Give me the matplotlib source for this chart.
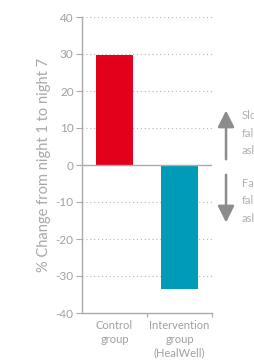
import matplotlib
matplotlib.use("Agg")
import matplotlib.pyplot as plt

categories = ["Control\ngroup", "Intervention\ngroup\n(HealWell)"]
values = [29.6, -33.6]
colors = ["#e2001a", "#009bb7"]
yticks = [-40, -30, -20, -10, 0, 10, 20, 30, 40]
ylabel = "% Change from night 1 to night 7"
up_text = "Slower\nfalling\nasleep"
down_text = "Faster\nfalling\nasleep"

plt.rcParams['font.family'] = ['Lato', 'DejaVu Sans']
gray = "#aaaaaa"
dark = "#8c8c8c"

fig = plt.figure(figsize=(2.55, 3.6), dpi=100)
ax = fig.add_axes([82/255, 1-313/360, 130/255, 296/360])

x = list(range(len(categories)))
ax.bar(x, values, width=0.56, color=colors, zorder=3)
ax.set_xlim(-0.5, 1.5)
ax.set_ylim(-40, 40)
ax.set_yticks(yticks)
ax.set_yticklabels([str(t) for t in yticks], color="#a0a0a0", fontsize=8.5)
for t in yticks:
    if t not in (0, -40):
        ax.axhline(t, color="#b5b5b5", lw=0.8, ls=(0, (1, 2.5)), zorder=1)
ax.axhline(0, color=gray, lw=1.0, zorder=4)

ax.set_xticks(x)
ax.set_xticklabels(categories, color="#a0a0a0", fontsize=8, linespacing=1.3)
ax.set_xticks([0.5, 1.5], minor=True)
ax.tick_params(axis='x', which='major', length=0, pad=5)
ax.tick_params(axis='x', which='minor', length=3, color=gray, width=0.8)
ax.tick_params(axis='y', length=4, color=gray, width=0.8, pad=2)

for s in ["top", "right"]:
    ax.spines[s].set_visible(False)
for s in ["left", "bottom"]:
    ax.spines[s].set_color(gray)
    ax.spines[s].set_linewidth(1.0)

ax.set_ylabel(ylabel, color="#a8a8a8", fontsize=10.5, labelpad=3)

ax.annotate("", xy=(1.108, 15.5), xytext=(1.108, 0.8), xycoords=('axes fraction', 'data'),
            arrowprops=dict(arrowstyle="-|>,head_length=1.0,head_width=0.5", color=dark, lw=1.8),
            annotation_clip=False)
ax.annotate("", xy=(1.108, -16.3), xytext=(1.108, -1.9), xycoords=('axes fraction', 'data'),
            arrowprops=dict(arrowstyle="-|>,head_length=1.0,head_width=0.5", color=dark, lw=1.8),
            annotation_clip=False)
ax.text(1.23, 14.8, up_text, transform=ax.get_yaxis_transform(), ha='left', va='top',
        fontsize=8, color="#b0b0b0", linespacing=1.7, clip_on=False)
ax.text(1.23, -3.5, down_text, transform=ax.get_yaxis_transform(), ha='left', va='top',
        fontsize=8, color="#b0b0b0", linespacing=1.7, clip_on=False)

fig.savefig("out.png", dpi=100)
